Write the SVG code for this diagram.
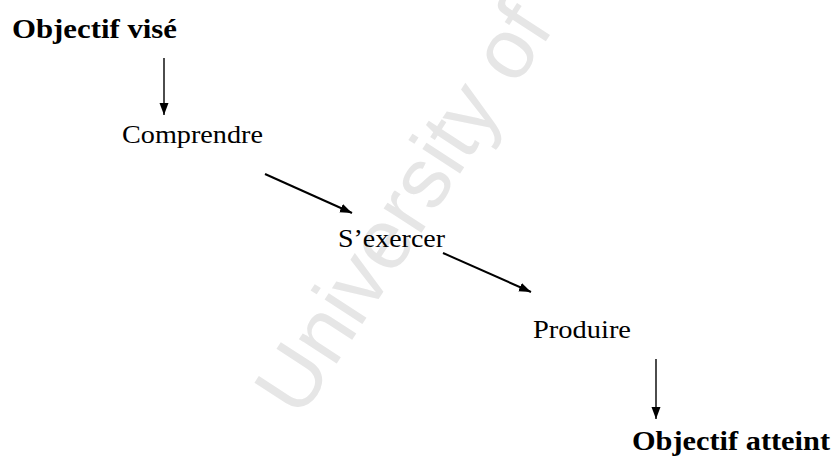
<svg xmlns="http://www.w3.org/2000/svg" width="832" height="462" viewBox="0 0 832 462">
<defs>
<marker id="ah" markerUnits="userSpaceOnUse" markerWidth="13" markerHeight="10" refX="12" refY="4.5" orient="auto">
<path d="M0,0 L12,4.5 L0,9 z" fill="#000"/>
</marker>
<style>
.t{font-family:"Liberation Serif","Times New Roman",serif;fill:#000;font-size:25px}
.b{font-weight:bold;font-size:27px}
.c{stroke:#000;fill:none;marker-end:url(#ah)}
.v{stroke-width:1.4}
.d{stroke-width:2}
.wm{font-family:"Liberation Sans",Arial,sans-serif;font-size:85px;fill:#e6e6e6}
</style>
</defs>
<rect width="832" height="462" fill="#fff"/>
<text class="wm" transform="translate(300,420) rotate(-57)">University of Cape Town</text>
<g id="connectors">
<line class="c v" x1="164" y1="58" x2="164" y2="115"/>
<line class="c d" x1="265" y1="174" x2="352" y2="213"/>
<line class="c d" x1="443" y1="253" x2="531" y2="292"/>
<line class="c v" x1="656" y1="359" x2="656" y2="419"/>
</g>
<g id="objectif-vise"><text class="t b" x="12" y="38" textLength="165" lengthAdjust="spacingAndGlyphs">Objectif visé</text></g>
<g id="comprendre"><text class="t" x="122" y="143" textLength="141" lengthAdjust="spacingAndGlyphs">Comprendre</text></g>
<g id="sexercer"><text class="t" x="338" y="247" textLength="107" lengthAdjust="spacingAndGlyphs">S’exercer</text></g>
<g id="produire"><text class="t" x="533" y="338" textLength="98" lengthAdjust="spacingAndGlyphs">Produire</text></g>
<g id="objectif-atteint"><text class="t b" x="632" y="450" textLength="198" lengthAdjust="spacingAndGlyphs">Objectif atteint</text></g>
</svg>
